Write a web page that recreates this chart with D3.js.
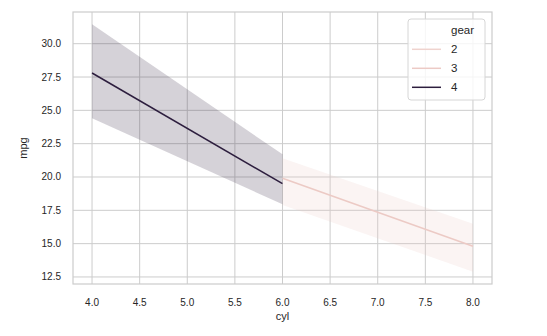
<!DOCTYPE html>
<html>
<head>
<meta charset="utf-8">
<script src="https://cdn.jsdelivr.net/npm/d3@7"></script>
<style>
  body { margin: 0; background: #fff; }
  svg text { font-family: "Liberation Sans", Arial, sans-serif; fill: #262626; }
</style>
</head>
<body>
<svg id="chart"></svg>
<script>
// ---- data ----
let gears = [2, 3, 4];
let gearColors = ['#efd3ce', '#eccac5', '#2d1e3e'];

let cyl4 = [4, 6];                 // gear 4 has cars at cyl 4 and 6
let mpg4 = [27.8, 19.5];
let low4 = [24.4, 17.95];
let high4 = [31.45, 21.7];

let cyl3 = [6, 8];                 // gear 3 at cyl 6 and 8
let mpg3 = [19.9, 14.8];
let low3 = [17.9, 12.9];
let high3 = [21.4, 16.5];

let xTicks = [4.0, 4.5, 5.0, 5.5, 6.0, 6.5, 7.0, 7.5, 8.0];
let yTicks = [12.5, 15.0, 17.5, 20.0, 22.5, 25.0, 27.5, 30.0];

// ---- layout ----
let svgWidth = 547;
let svgHeight = 336;
let margin = { left: 73, right: 55, top: 12, bottom: 52 };
let plotW = svgWidth - margin.left - margin.right;
let plotH = svgHeight - margin.top - margin.bottom;

let svg = d3.select('#chart')
    .attr('width', svgWidth)
    .attr('height', svgHeight);

// matplotlib style 5% padding around data
let allY = low4.concat(high4, low3, high3);
let yMin = d3.min(allY), yMax = d3.max(allY);
let yPad = (yMax - yMin) * 0.05;
let xMin = d3.min(cyl4.concat(cyl3)), xMax = d3.max(cyl4.concat(cyl3));
let xPad = (xMax - xMin) * 0.05;

let xScale = d3.scaleLinear()
    .domain([xMin - xPad, xMax + xPad])
    .range([0, plotW]);

let yScale = d3.scaleLinear()
    .domain([yMin - yPad, yMax + yPad])
    .range([plotH, 0]);

let g = svg.append('g')
    .attr('transform', 'translate(' + margin.left + ',' + margin.top + ')');

// grid lines
g.selectAll('.vgrid')
    .data(xTicks)
    .enter()
    .append('line')
    .attr('x1', d => xScale(d))
    .attr('x2', d => xScale(d))
    .attr('y1', 0)
    .attr('y2', plotH)
    .attr('stroke', '#cccccc')
    .attr('stroke-width', 1);

g.selectAll('.hgrid')
    .data(yTicks)
    .enter()
    .append('line')
    .attr('x1', 0)
    .attr('x2', plotW)
    .attr('y1', d => yScale(d))
    .attr('y2', d => yScale(d))
    .attr('stroke', '#cccccc')
    .attr('stroke-width', 1);

// frame
g.append('rect')
    .attr('width', plotW)
    .attr('height', plotH)
    .attr('fill', 'none')
    .attr('stroke', '#cccccc')
    .attr('stroke-width', 1.2);

// series: confidence bands then lines
let series = [
    { x: cyl4, y: mpg4, lo: low4, hi: high4, color: gearColors[2] },
    { x: cyl3, y: mpg3, lo: low3, hi: high3, color: gearColors[1] }
];

let area = d3.area()
    .x(d => xScale(d.x))
    .y0(d => yScale(d.lo))
    .y1(d => yScale(d.hi));

let line = d3.line()
    .x(d => xScale(d.x))
    .y(d => yScale(d.y));

series.forEach(function(s) {
    let pts = s.x.map((x, i) => ({ x: x, y: s.y[i], lo: s.lo[i], hi: s.hi[i] }));
    g.append('path')
        .datum(pts)
        .attr('d', area)
        .attr('fill', s.color)
        .attr('fill-opacity', 0.2);
    g.append('path')
        .datum(pts)
        .attr('d', line)
        .attr('fill', 'none')
        .attr('stroke', s.color)
        .attr('stroke-width', 1.5);
});

// tick labels
g.selectAll('.xlab')
    .data(xTicks)
    .enter()
    .append('text')
    .attr('x', d => xScale(d))
    .attr('y', plotH + 22)
    .attr('text-anchor', 'middle')
    .attr('font-size', 10)
    .text(d => d.toFixed(1));

g.selectAll('.ylab')
    .data(yTicks)
    .enter()
    .append('text')
    .attr('x', -12)
    .attr('y', d => yScale(d))
    .attr('dy', '0.35em')
    .attr('text-anchor', 'end')
    .attr('font-size', 10)
    .text(d => d.toFixed(1));

// axis titles
svg.append('text')
    .attr('x', margin.left + xScale(6))
    .attr('y', 320)
    .attr('text-anchor', 'middle')
    .attr('font-size', 11)
    .text('cyl');

svg.append('text')
    .attr('transform', 'translate(27,' + (margin.top + plotH / 2) + ') rotate(-90)')
    .attr('text-anchor', 'middle')
    .attr('font-size', 11)
    .text('mpg');

// legend
let legend = svg.append('g')
    .attr('transform', 'translate(408,19)');

legend.append('rect')
    .attr('width', 77)
    .attr('height', 81)
    .attr('rx', 3)
    .attr('fill', '#ffffff')
    .attr('fill-opacity', 0.8)
    .attr('stroke', '#d6d6d6')
    .attr('stroke-width', 1);

legend.append('text')
    .attr('x', 43)
    .attr('y', 11)
    .attr('dy', '0.35em')
    .attr('font-size', 11.5)
    .text('gear');

let items = legend.selectAll('.item')
    .data(gears)
    .enter()
    .append('g')
    .attr('transform', (d, i) => 'translate(0,' + (30.3 + i * 19) + ')');

items.append('line')
    .attr('x1', 4)
    .attr('x2', 33)
    .attr('stroke', (d, i) => gearColors[i])
    .attr('stroke-width', 1.5);

items.append('text')
    .attr('x', 43)
    .attr('dy', '0.35em')
    .attr('font-size', 11.5)
    .text(d => d);
</script>
</body>
</html>
